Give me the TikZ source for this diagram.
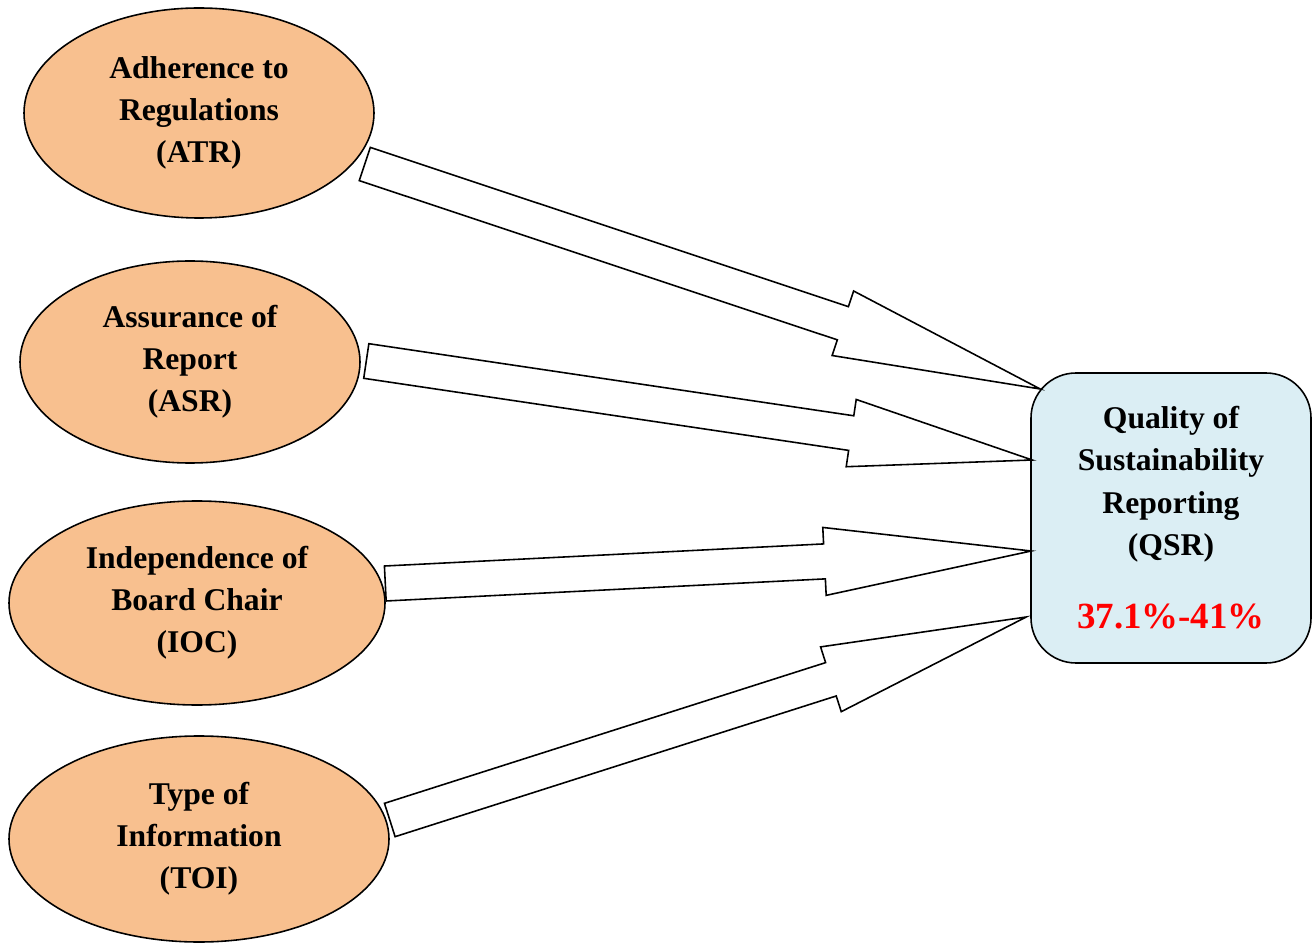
\documentclass[tikz,border=0pt]{standalone}
\usepackage{fontspec}
\setmainfont{Liberation Serif}
\usepackage{tikz}
\usetikzlibrary{arrows.meta,positioning,calc,shapes.geometric}
\definecolor{peach}{RGB}{248,192,143}
\definecolor{paleblue}{RGB}{219,238,244}
\definecolor{hotred}{RGB}{255,0,0}
% wide hollow arrow: #1 tail, #2 tip, #3 head length
\newcommand{\fatarrow}[3]{%
  \coordinate (hb) at ($(#2)!#3!(#1)$);
  \draw[blockarrow] ($(#1)!0.35cm!90:(#2)$) -- ($(hb)!0.35cm!90:(#2)$)
    -- ($(hb)!0.68cm!90:(#2)$) -- (#2) -- ($(hb)!0.68cm!-90:(#2)$)
    -- ($(hb)!0.35cm!-90:(#2)$) -- ($(#1)!0.35cm!-90:(#2)$) -- cycle;
}

\begin{document}
\begin{tikzpicture}[
    factor/.style={ellipse, draw, line width=0.9pt, fill=peach, inner sep=0pt,
      align=center, font=\bfseries\fontsize{18}{24}\selectfont},
    outcome/.style={rectangle, rounded corners=0.9cm, draw, line width=0.9pt,
      fill=paleblue, minimum width=5.6cm, minimum height=5.8cm, align=center,
      font=\bfseries\fontsize{18}{24}\selectfont},
    blockarrow/.style={draw, fill=white, line width=0.9pt}
  ]
    \useasboundingbox (0,0) rectangle (26.24,-18.86);
    % predictors
    \node[factor, minimum width=7.0cm, minimum height=4.2cm] (atr) at (3.98,-2.26)
      {Adherence to\\ Regulations\\ (ATR)};
    \node[factor, minimum width=6.8cm, minimum height=4.04cm] (asr) at (3.80,-7.24)
      {Assurance of\\ Report\\ (ASR)};
    \node[factor, minimum width=7.52cm, minimum height=4.08cm] (ioc) at (3.94,-12.06)
      {Independence of\\ Board Chair\\ (IOC)};
    \node[factor, minimum width=7.6cm, minimum height=4.12cm] (toi) at (3.98,-16.78)
      {Type of\\ Information\\ (TOI)};
    % outcome
    \node[outcome] (qsr) at (23.42,-10.36)
      {Quality of\\ Sustainability\\ Reporting\\ (QSR)\\[0.63cm]
       {\color{hotred}\fontsize{21}{24}\selectfont 37.1\%-41\%}};
    % arrow ends
    \coordinate (atrtail) at ($(atr.east)+(-0.20,-1.02)$);
    \coordinate (asrtail) at ($(asr.east)+(0.11,0.02)$);
    \coordinate (ioctail) at ($(ioc.east)+(-0.01,0.39)$);
    \coordinate (toitail) at ($(toi.east)+(0,0.38)$);
    \coordinate (tip1) at ($(qsr.west)+(0.20,2.58)$);
    \coordinate (tip2) at ($(qsr.west)+(0.04,1.16)$);
    \coordinate (tip3) at ($(qsr.west)+(0.02,-0.66)$);
    \coordinate (tip4) at ($(qsr.west)+(-0.08,-1.98)$);
    % arrows
    \fatarrow{atrtail}{tip1}{4.16cm}
    \fatarrow{asrtail}{tip2}{3.66cm}
    \fatarrow{ioctail}{tip3}{4.14cm}
    \fatarrow{toitail}{tip4}{4.1cm}
  \end{tikzpicture}
\end{document}
